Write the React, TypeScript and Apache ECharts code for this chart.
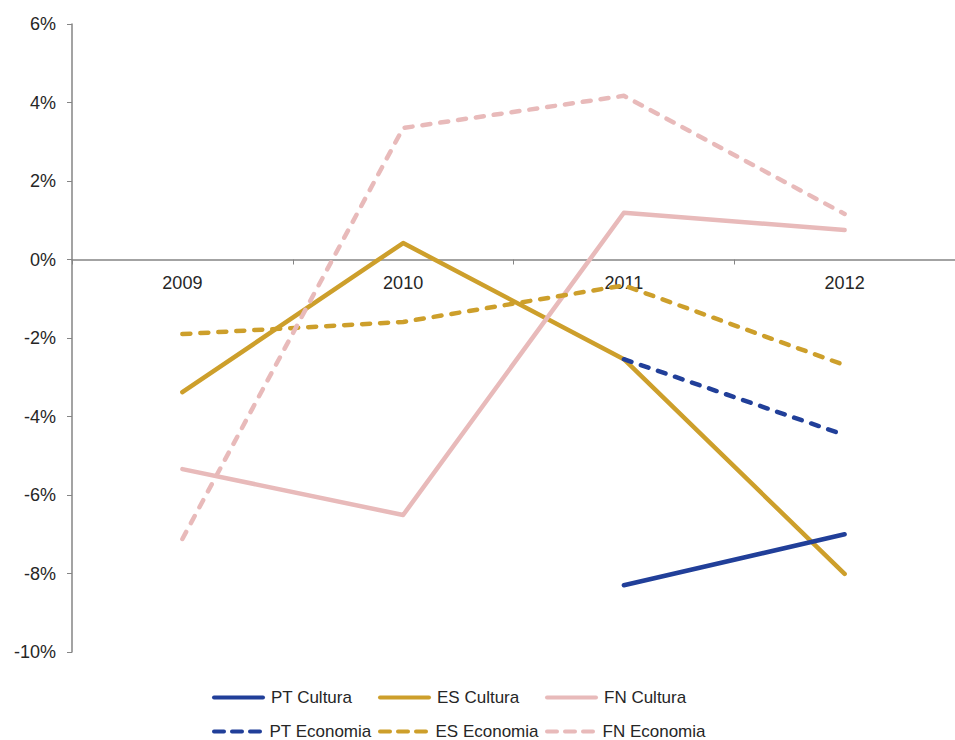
import React, { useEffect, useRef } from "react";
import * as echarts from "echarts";

const years = ["2009", "2010", "2011", "2012"];
const ptCultura = [null, null, -8.3, -7.0];
const esCultura = [-3.38, 0.42, -2.54, -8.01];
const fnCultura = [-5.34, -6.51, 1.19, 0.75];
const ptEconomia = [null, null, -2.54, -4.47];
const esEconomia = [-1.9, -1.59, -0.66, -2.69];
const fnEconomia = [-7.12, 3.35, 4.17, 1.16];

const BLUE = "#213f99";
const GOLD = "#cd9f2b";
const PINK = "#e8baba";
const FONT = "'Liberation Sans', Arial, sans-serif";
const TEXT = "#262626";
const AXIS = "#858585";

const SOLID_ICON = "path://M2,0 h49 a2,2 0 0 1 0,4 h-49 a2,2 0 0 1 0,-4 z";
const DASH_ICON =
  "path://M2,0 h10 a2,2 0 0 1 0,4 h-10 a2,2 0 0 1 0,-4 z M20,0 h10 a2,2 0 0 1 0,4 h-10 a2,2 0 0 1 0,-4 z M38,0 h10 a2,2 0 0 1 0,4 h-10 a2,2 0 0 1 0,-4 z";

export default function App() {
  const ref = useRef<HTMLDivElement>(null);
  useEffect(() => {
    document.body.style.margin = "0";
    const chart = echarts.init(ref.current!, null, { renderer: "svg" });
    const mk = (name: string, data: (number | null)[], color: string, dashed: boolean) => ({
      name,
      type: "line",
      data: data.map((v) => (v === null ? "-" : v)),
      symbol: "none",
      connectNulls: false,
      lineStyle: {
        color,
        width: 4.5,
        type: dashed ? [8, 10] : "solid",
        cap: "round",
        join: "round",
      },
      itemStyle: { color },
    });
    const legendItems = [
      { name: "PT Cultura", left: 212, top: 689, dashed: false, color: BLUE },
      { name: "ES Cultura", left: 378, top: 689, dashed: false, color: GOLD },
      { name: "FN Cultura", left: 545, top: 689, dashed: false, color: PINK },
      { name: "PT Economia", left: 212, top: 723, dashed: true, color: BLUE },
      { name: "ES Economia", left: 378, top: 723, dashed: true, color: GOLD },
      { name: "FN Economia", left: 545, top: 723, dashed: true, color: PINK },
    ];
    chart.setOption({
      animation: false,
      textStyle: { fontFamily: FONT },
      grid: { left: 72, top: 24, width: 892, height: 628, containLabel: false },
      legend: legendItems.map((it) => ({
        left: it.left,
        top: it.top,
        padding: 0,
        orient: "horizontal",
        itemWidth: 53,
        itemHeight: 4,
        itemGap: 0,
        selectedMode: false,
        textStyle: { fontFamily: FONT, fontSize: 17, color: TEXT, padding: [0, 0, 0, 1] },
        data: [
          {
            name: it.name,
            icon: it.dashed ? DASH_ICON : SOLID_ICON,
            itemStyle: { color: it.color, borderWidth: 0 },
            lineStyle: { width: 0, opacity: 0 },
          },
        ],
      })),
      xAxis: {
        type: "category",
        data: years,
        boundaryGap: true,
        offset: -392.5,
        axisLine: { onZero: false, lineStyle: { color: AXIS, width: 1.5 } },
        axisTick: { show: true, length: 5, lineStyle: { color: AXIS } },
        axisLabel: { fontFamily: FONT, fontSize: 18, color: TEXT, margin: 14 },
        splitLine: { show: false },
      },
      yAxis: {
        type: "value",
        min: -10,
        max: 6,
        interval: 2,
        axisLine: { show: true, lineStyle: { color: AXIS, width: 1.5 } },
        axisTick: { show: true, length: 5, lineStyle: { color: AXIS } },
        axisLabel: {
          fontFamily: FONT,
          fontSize: 18,
          color: TEXT,
          margin: 16,
          formatter: (v: number) => `${v}%`,
        },
        splitLine: { show: false },
      },
      series: [
        mk("ES Cultura", esCultura, GOLD, false),
        mk("FN Cultura", fnCultura, PINK, false),
        mk("ES Economia", esEconomia, GOLD, true),
        mk("FN Economia", fnEconomia, PINK, true),
        mk("PT Cultura", ptCultura, BLUE, false),
        mk("PT Economia", ptEconomia, BLUE, true),
      ],
    });
    return () => chart.dispose();
  }, []);
  return <div ref={ref} style={{ width: 955, height: 740 }} />;
}
